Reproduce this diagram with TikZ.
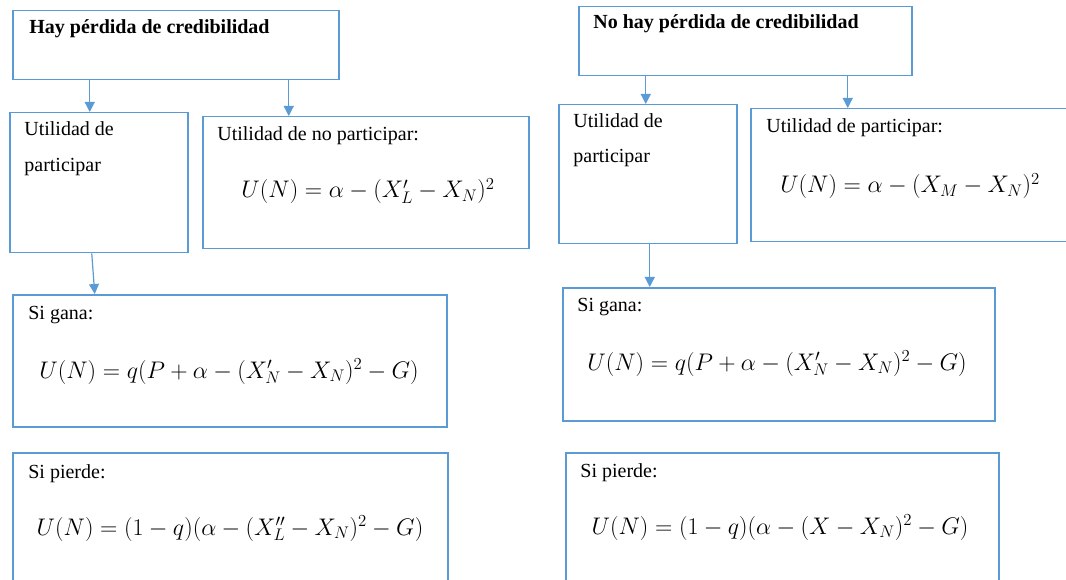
\documentclass[tikz,border=0pt]{standalone}
\usepackage{fix-cm}
\usepackage{fontspec}
\setmainfont{Liberation Serif}
\usetikzlibrary{arrows.meta,positioning,calc}
\definecolor{azulcaja}{RGB}{91,155,213}
\tikzset{every picture/.style={line width=0.75pt}}
\tikzset{
  caja/.style={draw=azulcaja, line width=1.5pt, inner sep=0pt, anchor=north west},
  texto/.style={anchor=base west, inner sep=0pt, font=\fontsize{20}{24}\selectfont},
  titulo/.style={texto, font=\fontsize{20}{24}\selectfont\bfseries},
  formula/.style={anchor=base, inner sep=0pt, font=\fontsize{24}{29}\selectfont},
  flecha/.style={draw=azulcaja, line width=1.2pt, -{Triangle[width=10pt,length=10pt]}}
}

\begin{document}
\begin{tikzpicture}[x=1pt,y=-1pt]
    \useasboundingbox (0,0) rectangle (1066,580);
    \clip (0,0) rectangle (1066,580);

    % Hay pérdida de credibilidad
    \node[caja, minimum width=326pt, minimum height=69pt] (hay) at (12,10) {};
    \node[titulo] (hayT) at (29,34) {Hay pérdida de credibilidad};

    \node[caja, minimum width=178pt, minimum height=140pt] (partA) at (9,112) {};
    \node[texto] (partA1) at (24,136) {Utilidad de};
    \node[texto] (partA2) at (24,172) {participar};

    \node[caja, minimum width=326pt, minimum height=132pt] (noPart) at (202,116) {};
    \node[texto] (noPartT) at (217,141) {Utilidad de no participar:};
    \node[formula] (noPartF) at (368,198) {$U(N) = \alpha - (X'_L - X_N)^2$};

    \node[caja, minimum width=434pt, minimum height=132pt] (ganaA) at (12,294) {};
    \node[texto] (ganaAT) at (28,319) {Si gana:};
    \node[formula] (ganaAF) at (229,378) {$U(N) = q(P + \alpha - (X'_N - X_N)^2 - G)$};

    \node[caja, minimum width=435pt, minimum height=150pt] (pierdeA) at (12,452) {};
    \node[texto] (pierdeAT) at (28,478) {Si pierde:};
    \node[formula] (pierdeAF) at (230,535) {$U(N) = (1 - q)(\alpha - (X''_L - X_N)^2 - G)$};

    % No hay pérdida de credibilidad
    \node[caja, minimum width=333pt, minimum height=69pt] (noHay) at (578,6) {};
    \node[titulo] (noHayT) at (593,29) {No hay pérdida de credibilidad};

    \node[caja, minimum width=178pt, minimum height=139pt] (partB) at (558,104) {};
    \node[texto] (partB1) at (573,128) {Utilidad de};
    \node[texto] (partB2) at (573,163) {participar};

    \node[caja, minimum width=330pt, minimum height=133pt] (siPart) at (750,108) {};
    \node[texto] (siPartT) at (766,133) {Utilidad de participar:};
    \node[formula] (siPartF) at (910,193) {$U(N) = \alpha - (X_M - X_N)^2$};

    \node[caja, minimum width=432pt, minimum height=133pt] (ganaB) at (562,287) {};
    \node[texto] (ganaBT) at (577,312) {Si gana:};
    \node[formula] (ganaBF) at (777,370) {$U(N) = q(P + \alpha - (X'_N - X_N)^2 - G)$};

    \node[caja, minimum width=433pt, minimum height=150pt] (pierdeB) at (565,452) {};
    \node[texto] (pierdeBT) at (580,477) {Si pierde:};
    \node[formula] (pierdeBF) at (780,534) {$U(N) = (1 - q)(\alpha - (X - X_N)^2 - G)$};

    % Flechas
    \draw[flecha] ([xshift=-86pt]hay.south) -- ([xshift=-9pt]partA.north);
    \draw[flecha] ([xshift=113pt]hay.south) -- ([xshift=-77pt]noPart.north);
    \draw[flecha] ([xshift=-7pt]partA.south) -- ([xshift=-135pt]ganaA.north);
    \draw[flecha] ([xshift=-99.5pt]noHay.south) -- ([xshift=-2pt]partB.north);
    \draw[flecha] ([xshift=102.5pt]noHay.south) -- ([xshift=-68pt]siPart.north);
    \draw[flecha] ([xshift=2pt]partB.south) -- ([xshift=-129pt]ganaB.north);
\end{tikzpicture}
\end{document}
